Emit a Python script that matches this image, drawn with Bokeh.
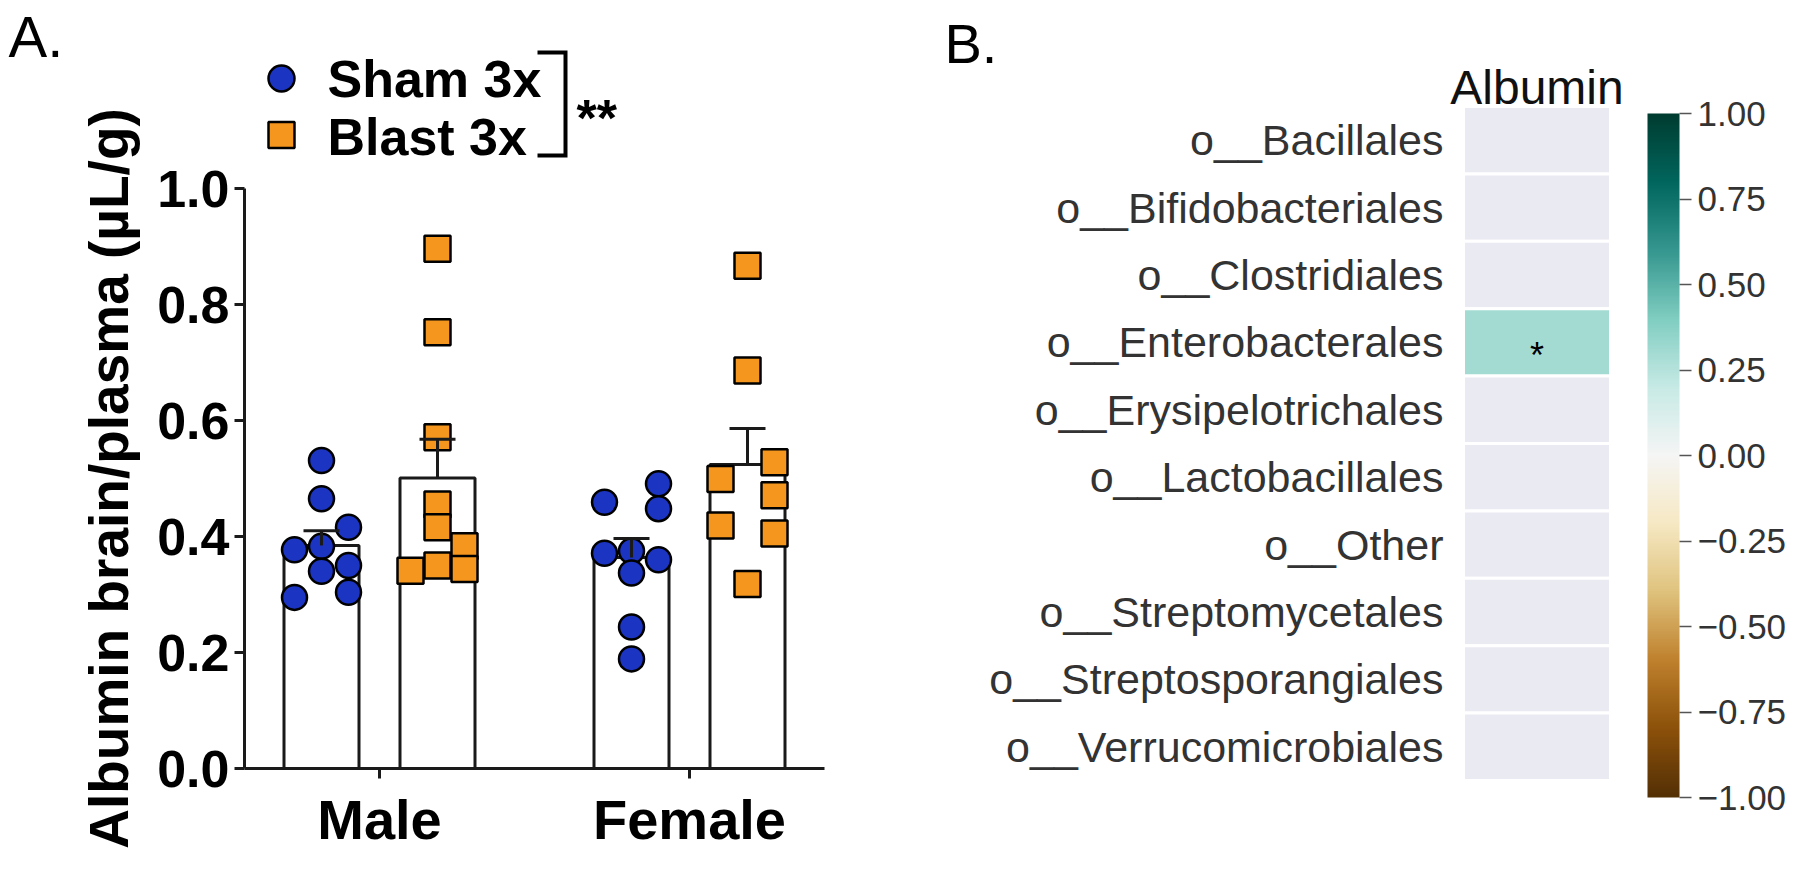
import numpy as np
from bokeh.plotting import figure
from bokeh.models import (Range1d, FixedTicker, LinearColorMapper, ColorBar,
                          ColumnDataSource, PrintfTickFormatter)
from bokeh.layouts import row
from bokeh.embed import file_html
from bokeh.resources import INLINE
from bokeh.core.properties import value

# ---------------- data: panel A ----------------
sexes = ["Male", "Female"]
groups = ["Sham 3x", "Blast 3x"]
male_sham = [0.531, 0.465, 0.416, 0.383, 0.377, 0.350, 0.340, 0.304, 0.295]
male_sham_lane = [0, 0, 1, 0, -1, 1, 0, 1, -1]
male_blast = [0.896, 0.752, 0.571, 0.455, 0.416, 0.383, 0.350, 0.344, 0.341]
male_blast_lane = [0, 0, 0, 0, 0, 1, 0, 1, -1]
female_sham = [0.491, 0.459, 0.448, 0.375, 0.371, 0.360, 0.337, 0.244, 0.189]
female_sham_lane = [1, -1, 1, 0, -1, 1, 0, 0, 0]
female_blast = [0.867, 0.686, 0.528, 0.499, 0.471, 0.419, 0.405, 0.318]
female_blast_lane = [0, 0, 1, -1, 1, -1, 1, 0]
y_ticks = [0.0, 0.2, 0.4, 0.6, 0.8, 1.0]

# ---------------- data: panel B ----------------
orders = ["o__Bacillales", "o__Bifidobacteriales", "o__Clostridiales",
          "o__Enterobacterales", "o__Erysipelotrichales", "o__Lactobacillales",
          "o__Other", "o__Streptomycetales", "o__Streptosporangiales",
          "o__Verrucomicrobiales"]
albumin_r = [np.nan, np.nan, np.nan, 0.30, np.nan, np.nan, np.nan, np.nan, np.nan, np.nan]
albumin_sig = ["", "", "", "*", "", "", "", "", "", ""]
cbar_ticks = [-1.0, -0.75, -0.5, -0.25, 0.0, 0.25, 0.5, 0.75, 1.0]
cbar_labels = ["\u22121.00", "\u22120.75", "\u22120.50", "\u22120.25", "0.00",
               "0.25", "0.50", "0.75", "1.00"]

FONT = "Liberation Sans"
BLUE = "#1B34C2"
ORANGE = "#F5961E"
AX = "#1a1a1a"

PAGE_TOP, PAGE_BOT = 0, 870
SPLIT = 908          # page x where panel B canvas starts
PAGE_RIGHT = 1796

# ================= Panel A (frame = whole canvas, axes at fixed locations) =================
MALE_PX, PX_PER_X = 379, 310.0
ZERO_PY, PX_PER_Y = 768, 580.0

def ax(px):
    return 1 + (px - MALE_PX) / PX_PER_X

def ay(py):
    return (ZERO_PY - py) / PX_PER_Y

pA = figure(x_range=Range1d(ax(0), ax(SPLIT)), y_range=Range1d(ay(PAGE_BOT), ay(PAGE_TOP)),
            width=SPLIT, height=PAGE_BOT - PAGE_TOP, title=None,
            min_border=0, min_border_left=0, min_border_right=0,
            min_border_top=0, min_border_bottom=0,
            output_backend="svg", toolbar_location=None,
            background_fill_color="white", border_fill_color="white",
            outline_line_color=None)
pA.grid.visible = False

OFF = 58 / PX_PER_X      # group offset
BW = 75 / PX_PER_X       # bar width
JIT = 27 / PX_PER_X      # lane spacing
CAP = 18 / PX_PER_X      # half cap width

sets = [
    (1, -1, male_sham, male_sham_lane, "circle", BLUE),
    (1, +1, male_blast, male_blast_lane, "square", ORANGE),
    (2, -1, female_sham, female_sham_lane, "circle", BLUE),
    (2, +1, female_blast, female_blast_lane, "square", ORANGE),
]
bx, bm, bs = [], [], []
for cat, side, vals, lanes, mk, col in sets:
    v = np.array(vals)
    bx.append(cat + side * OFF)
    bm.append(v.mean())
    bs.append(v.std(ddof=1) / np.sqrt(len(v)))

pA.vbar(x=bx, top=bm, bottom=0, width=BW, fill_color="white",
        line_color=AX, line_width=3)

for (cat, side, vals, lanes, mk, col), xc in zip(sets, bx):
    xs = [xc + l * JIT for l in lanes]
    pA.scatter(x=xs, y=vals, marker=mk, size=25 if mk == "circle" else 26,
               fill_color=col, line_color="black", line_width=2.5)

tops = [m + s for m, s in zip(bm, bs)]
pA.segment(x0=bx, y0=bm, x1=bx, y1=tops, line_color=AX, line_width=3)
pA.segment(x0=[x - CAP for x in bx], y0=tops, x1=[x + CAP for x in bx], y1=tops,
           line_color=AX, line_width=3)

AXIS_X0, AXIS_X1 = ax(244), ax(824)

xa = pA.xaxis[0]
xa.fixed_location = 0
xa.bounds = (AXIS_X0, AXIS_X1)
xa.ticker = FixedTicker(ticks=[1, 2])
xa.major_label_overrides = {1: sexes[0], 2: sexes[1]}
xa.axis_line_width = 3
xa.axis_line_color = AX
xa.major_tick_line_width = 3
xa.major_tick_line_color = AX
xa.major_tick_in = 0
xa.major_tick_out = 10
xa.minor_tick_line_color = None
xa.major_label_text_font = FONT
xa.major_label_text_font_style = "bold"
xa.major_label_text_font_size = "56px"
xa.major_label_text_color = "black"
xa.major_label_standoff = 9

ya = pA.yaxis[0]
ya.fixed_location = AXIS_X0
ya.bounds = (0, 1)
ya.ticker = FixedTicker(ticks=y_ticks)
ya.formatter = PrintfTickFormatter(format="%.1f")
ya.axis_line_width = 3
ya.axis_line_color = AX
ya.major_tick_line_width = 3
ya.major_tick_line_color = AX
ya.major_tick_in = 0
ya.major_tick_out = 10
ya.minor_tick_line_color = None
ya.major_label_text_font = FONT
ya.major_label_text_font_style = "bold"
ya.major_label_text_font_size = "52px"
ya.major_label_text_color = "black"
ya.major_label_standoff = 5
ya.axis_label = "Albumin brain/plasma (\u00b5L/g)"
ya.axis_label_text_font = FONT
ya.axis_label_text_font_style = "bold"
ya.axis_label_text_font_size = "55px"
ya.axis_label_text_color = "black"
ya.axis_label_standoff = 14

# legend drawn with bracket and significance stars
pA.scatter(x=[ax(281)], y=[ay(78)], marker="circle", size=26, fill_color=BLUE,
           line_color="black", line_width=2.5)
pA.scatter(x=[ax(281)], y=[ay(134.5)], marker="square", size=26, fill_color=ORANGE,
           line_color="black", line_width=2.5)
pA.text(x=[ax(327), ax(327)], y=[ay(78.5), ay(136)], text=groups,
        text_font=value(FONT), text_font_style="bold", text_font_size="52px",
        text_color="black", text_align="left", text_baseline="middle")
pA.line(x=[ax(537), ax(565), ax(565), ax(537)], y=[ay(52), ay(52), ay(155), ay(155)],
        line_color="black", line_width=4, line_join="miter")
pA.text(x=[ax(576)], y=[ay(117)], text=["**"], text_font=value(FONT),
        text_font_style="bold", text_font_size="52px", text_color="black",
        text_align="left", text_baseline="middle")
pA.text(x=[ax(8)], y=[ay(36)], text=["A."], text_font=value(FONT),
        text_font_size="58px", text_color="black",
        text_align="left", text_baseline="middle")

# ================= Panel B =================
CELL_L, CELL_W = 1463, 147
ROW_BOTTOM, ROW_PX = 780, 67.4
NR = len(orders)

def bxp(px):
    return (px - CELL_L) / CELL_W

def byp(py):
    return (ROW_BOTTOM - py) / ROW_PX

pB = figure(x_range=Range1d(bxp(SPLIT), bxp(PAGE_RIGHT)),
            y_range=Range1d(byp(PAGE_BOT), byp(PAGE_TOP)),
            width=PAGE_RIGHT - SPLIT, height=PAGE_BOT - PAGE_TOP, title=None,
            min_border=0, min_border_left=0, min_border_right=0,
            min_border_top=0, min_border_bottom=0,
            x_axis_location="above",
            output_backend="svg", toolbar_location=None,
            background_fill_color="white", border_fill_color="white",
            outline_line_color=None)
pB.grid.visible = False

base = ["#543005", "#8c510a", "#bf812d", "#dfc27d", "#f6e8c3", "#f5f5f5",
        "#c7eae5", "#80cdc1", "#35978f", "#01665e", "#003c30"]
rgb = np.array([[int(c[i:i + 2], 16) for i in (1, 3, 5)] for c in base], dtype=float)
pos = np.linspace(0, 1, len(base))
tt = np.linspace(0, 1, 256)
pal = ["#%02x%02x%02x" % tuple(int(round(np.interp(t, pos, rgb[:, k]))) for k in range(3))
       for t in tt]
mapper = LinearColorMapper(palette=pal, low=-1, high=1, nan_color="#EAEAF2")

ypos = [NR - 1 - i + 0.5 for i in range(NR)]
src = ColumnDataSource(dict(x=[0.5] * NR, y=ypos, r=np.array(albumin_r), name=orders))
pB.rect(x="x", y="y", width=1, height=1, source=src,
        fill_color={"field": "r", "transform": mapper},
        line_color="white", line_width=3)

sx = [0.5 for s in albumin_sig if s]
sy = [y for y, s in zip(ypos, albumin_sig) if s]
st = [s for s in albumin_sig if s]
pB.text(x=sx, y=sy, text=st, text_font=value(FONT), text_font_size="36px",
        text_color="black", text_align="center", text_baseline="middle",
        y_offset=13)

yb = pB.yaxis[0]
yb.fixed_location = 0
yb.ticker = FixedTicker(ticks=ypos)
yb.major_label_overrides = {y: n for y, n in zip(ypos, orders)}
yb.axis_line_color = None
yb.major_tick_line_color = None
yb.minor_tick_line_color = None
yb.major_tick_in = 0
yb.major_tick_out = 0
yb.major_label_standoff = 20
yb.major_label_text_font = FONT
yb.major_label_text_font_size = "43px"
yb.major_label_text_color = "#333333"

xb = pB.xaxis[0]
xb.fixed_location = byp(117)
xb.ticker = FixedTicker(ticks=[0.5])
xb.major_label_overrides = {0.5: "Albumin"}
xb.axis_line_color = None
xb.major_tick_line_color = None
xb.minor_tick_line_color = None
xb.major_tick_in = 0
xb.major_tick_out = 0
xb.major_label_standoff = 4
xb.major_label_text_font = FONT
xb.major_label_text_font_size = "48px"
xb.major_label_text_color = "#111111"

cb = ColorBar(color_mapper=mapper, ticker=FixedTicker(ticks=cbar_ticks),
              major_label_overrides=dict(zip(cbar_ticks, cbar_labels)),
              width=32, height=684, padding=0, margin=0,
              location=(1647 - SPLIT, PAGE_BOT - 797),
              major_tick_in=0, major_tick_out=12,
              major_tick_line_color="#555555", major_tick_line_width=1.5,
              minor_tick_line_color=None,
              label_standoff=6,
              major_label_text_font=FONT, major_label_text_font_size="35px",
              major_label_text_color="#333333",
              bar_line_color=None, border_line_color=None,
              background_fill_color=None)
pB.add_layout(cb)

pB.text(x=[bxp(944)], y=[byp(42.5)], text=["B."], text_font=value(FONT),
        text_font_size="56px", text_color="black",
        text_align="left", text_baseline="middle")

layout = row(pA, pB)
open("out.html", "w").write(file_html(layout, INLINE))
